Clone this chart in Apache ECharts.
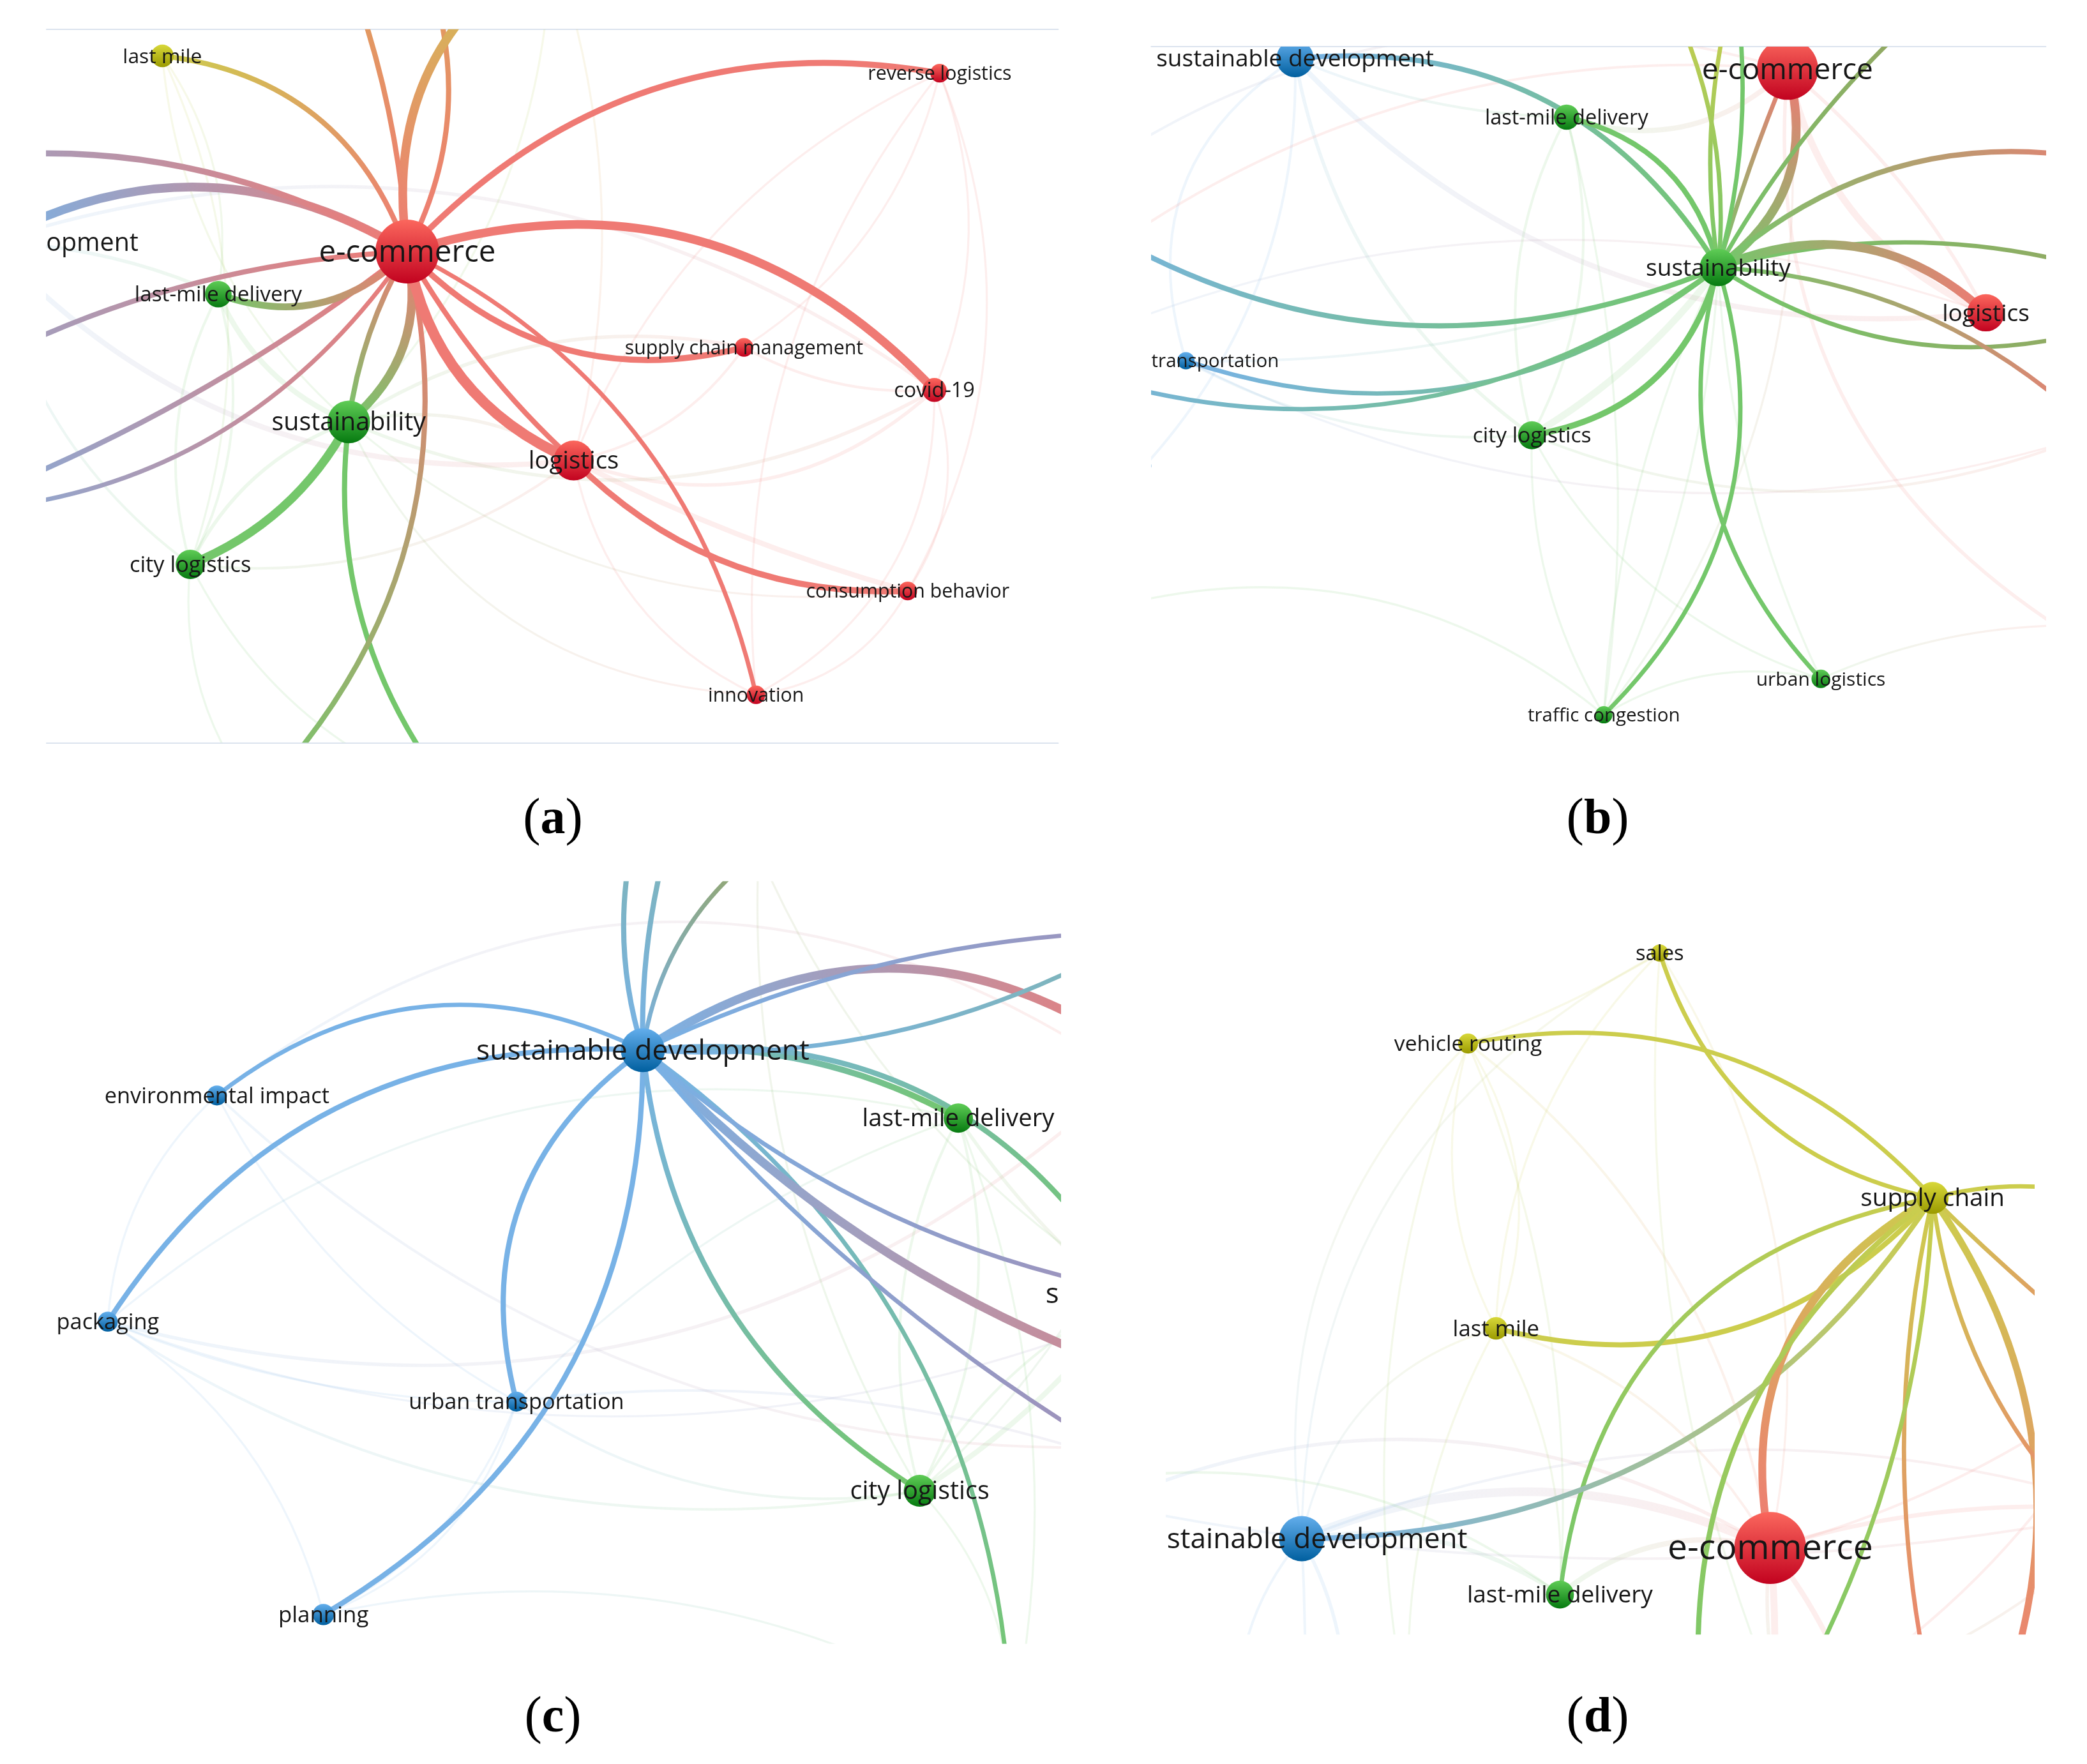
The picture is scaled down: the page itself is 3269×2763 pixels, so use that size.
<!DOCTYPE html>
<html>
<head>
<meta charset="utf-8">
<title>Keyword co-occurrence networks</title>
<script src="https://cdn.jsdelivr.net/npm/echarts@6/dist/echarts.min.js"></script>
<style>
html, body { margin: 0; background: #fff; }
#main { width: 3269px; height: 2763px; }
</style>
</head>
<body>
<div id="main"></div>
<script>
// nodes: name, x, y, weight, cluster. Names starting with ~ are keywords outside the crop, no label
var nodesA = [
	['sustainable development', -7, 182, 16, 'B'], ['environmental impact', -180, 160, 7, 'B'],
	['packaging', -120, 340, 7, 'B'], ['urban transportation', -60, 390, 7, 'B'], ['transportation', -80, 385, 6, 'B'],
	['~veh', 262, -20, 7, 'A'], ['~sales', 320, -25, 6, 'A'], ['supply chain', 414, -44, 11, 'Y'],
	['~urban', 342, 600, 6, 'G'], ['~traffic', 193, 600, 6, 'G'],
	['last mile', 122, 42, 8.5, 'Y'], ['last-mile delivery', 164, 221, 10, 'G'], ['city logistics', 143, 424, 11, 'G'],
	['sustainability', 262, 317, 16, 'G'], ['logistics', 431, 346, 15, 'R'], ['supply chain management', 559, 261, 7, 'R'],
	['covid-19', 702, 293, 9, 'R'], ['reverse logistics', 706, 55, 7, 'R'], ['consumption behavior', 682, 444, 7, 'R'],
	['innovation', 568, 522, 7, 'R'], ['e-commerce', 306, 189, 24, 'R']
];
// edges: source, target, bend (share of the chord, + bows to the left of travel), link strength
var edgesA = [
	['e-commerce', 'sustainable development', -0.287, 5], ['e-commerce', 'environmental impact', -0.24, 3.5],
	['e-commerce', 'packaging', -0.15, 3], ['e-commerce', 'urban transportation', 0.08, 3],
	['e-commerce', 'transportation', 0.27, 2.5], ['e-commerce', 'last mile', -0.31, 3],
	['e-commerce', 'last-mile delivery', 0.32, 4], ['e-commerce', 'sustainability', 0.3, 5],
	['e-commerce', 'sustainability', -0.1, 3], ['sustainability', 'city logistics', 0.18, 5],
	['sustainability', '~urban', -0.21, 3], ['e-commerce', '~traffic', 0.27, 3],
	['e-commerce', '~veh', -0.075, 3], ['e-commerce', '~sales', -0.22, 3], ['e-commerce', 'supply chain', 0.33, 5],
	['e-commerce', 'reverse logistics', 0.27, 3.5], ['e-commerce', 'covid-19', 0.31, 5],
	['e-commerce', 'logistics', -0.27, 6], ['e-commerce', 'logistics', -0.08, 3],
	['e-commerce', 'supply chain management', -0.29, 3.5], ['e-commerce', 'innovation', 0.236, 2.5],
	['logistics', 'consumption behavior', -0.22, 3.5]
];
var faintA = [
	['reverse logistics', 'consumption behavior', 0.24, 1.2], ['reverse logistics', 'covid-19', 0.2, 1.2],
	['reverse logistics', 'logistics', -0.2, 1.2], ['reverse logistics', 'supply chain management', 0.2, 1.2],
	['reverse logistics', 'innovation', -0.2, 1.2], ['logistics', 'covid-19', -0.3, 2],
	['supply chain management', 'logistics', 0.2, 1.5], ['supply chain management', 'covid-19', -0.15, 1.5],
	['covid-19', 'consumption behavior', 0.25, 1.2], ['covid-19', 'innovation', 0.3, 1.2],
	['consumption behavior', 'innovation', 0.25, 1.2], ['logistics', 'innovation', -0.25, 1.2],
	['logistics', 'consumption behavior', -0.05, 3], ['sustainability', 'consumption behavior', -0.22, 1.2],
	['sustainability', 'innovation', -0.3, 1.2], ['sustainability', 'covid-19', -0.25, 2],
	['sustainability', 'supply chain management', 0.2, 2], ['sustainability', 'logistics', 0.2, 2],
	['last mile', 'sustainability', -0.2, 1.2], ['last mile', 'city logistics', 0.2, 1.2],
	['last mile', 'last-mile delivery', 0.2, 1.2], ['last-mile delivery', 'city logistics', 0.2, 1.5],
	['last-mile delivery', 'city logistics', -0.2, 1.5], ['last-mile delivery', 'sustainability', -0.2, 3],
	['city logistics', 'sustainability', 0.2, 2], ['city logistics', '~traffic', -0.2, 1.2],
	['city logistics', '~urban', -0.2, 1.2], ['sustainable development', 'logistics', -0.25, 3],
	['sustainable development', 'covid-19', 0.25, 2], ['city logistics', 'logistics', -0.2, 1.5],
	['sustainable development', 'city logistics', -0.2, 1.5], ['sustainable development', 'last-mile delivery', 0.1, 2],
	['supply chain', 'logistics', 0.15, 1.2], ['supply chain', 'sustainability', 0.2, 1.2]
];

var nodesB = [
	['~t1', 1255, 0, 5, 'Y'], ['~t2', 1300, 0, 5, 'Y'], ['~t3', 1305, 0, 5, 'G'], ['~t4', 1440, 12, 5, 'O'],
	['~r1', 1600, 125, 5, 'R'], ['~r2', 1600, 210, 5, 'O'], ['~r3', 1600, 240, 5, 'O'], ['~r4', 1580, 330, 5, 'R'],
	['~l1', 790, 150, 5, 'B'], ['~l3', 780, 270, 5, 'B'], ['~l4', 860, 350, 5, 'B'], ['~l5', 840, 455, 5, 'G'],
	['~l6', 790, 220, 5, 'R'], ['~r5', 1560, 330, 5, 'R'], ['~r6', 1545, 470, 5, 'R'],
	['sustainable development', 973, 44, 14, 'B'], ['transportation', 891, 271, 6.5, 'B'],
	['last-mile delivery', 1177, 88, 9.5, 'G'], ['city logistics', 1151, 327, 10.5, 'G'],
	['traffic congestion', 1205, 537, 6.5, 'G'], ['urban logistics', 1368, 510, 7, 'G'],
	['logistics', 1492, 235, 14, 'R'], ['e-commerce', 1343, 52, 23, 'R'], ['sustainability', 1291, 201, 14, 'G']
];
var edgesB = [
	['sustainability', 'sustainable development', -0.31, 3], ['sustainability', 'last-mile delivery', -0.31, 3],
	['sustainability', 'e-commerce', -0.35, 5], ['sustainability', 'e-commerce', 0.03, 2.5],
	['sustainability', '~t1', -0.14, 2.5], ['sustainability', '~t2', 0.1, 2.5], ['sustainability', '~t3', -0.1, 2.5],
	['sustainability', '~t4', 0.08, 2.5], ['sustainability', '~r1', 0.26, 3], ['sustainability', '~r2', 0.15, 2.5],
	['sustainability', 'logistics', 0.32, 5], ['sustainability', '~r3', -0.245, 2.5], ['sustainability', '~r4', 0.19, 2.5],
	['sustainability', '~l1', 0.267, 3], ['sustainability', 'transportation', 0.27, 2.5], ['sustainability', '~l3', 0.264, 2.5],
	['sustainability', 'city logistics', 0.32, 3.5], ['sustainability', 'urban logistics', -0.28, 2.5],
	['sustainability', 'traffic congestion', 0.3, 2.5]
];
var faintB = [
	['sustainable development', 'transportation', -0.38, 1.5], ['sustainable development', '~l4', 0.2, 1.5],
	['sustainable development', 'city logistics', -0.2, 2], ['last-mile delivery', 'city logistics', 0.2, 1.5],
	['last-mile delivery', 'city logistics', -0.2, 1.5], ['sustainable development', 'logistics', -0.25, 3],
	['e-commerce', 'logistics', -0.25, 4], ['e-commerce', 'last-mile delivery', 0.3, 3], ['~l6', 'e-commerce', 0.2, 1.5],
	['city logistics', 'traffic congestion', -0.15, 1.2], ['traffic congestion', 'urban logistics', 0.2, 1.2],
	['traffic congestion', 'sustainability', 0.1, 1.2], ['traffic congestion', 'sustainability', -0.1, 1.2],
	['urban logistics', 'sustainability', 0.1, 1.2], ['city logistics', 'urban logistics', -0.2, 1.2],
	['last-mile delivery', 'traffic congestion', 0.1, 1.2], ['city logistics', '~r5', -0.2, 1.5],
	['~l5', 'traffic congestion', 0.25, 1.2], ['e-commerce', 'traffic congestion', 0.2, 1.2],
	['city logistics', 'sustainability', -0.1, 4], ['transportation', 'city logistics', -0.15, 1.5],
	['transportation', 'sustainability', -0.1, 1.5], ['e-commerce', '~r6', -0.3, 2], ['logistics', 'e-commerce', -0.1, 2],
	['transportation', '~r5', -0.2, 1.2], ['urban logistics', '~r6', 0.1, 1.2], ['sustainable development', 'last-mile delivery', -0.1, 1.5],
	['~l1', 'e-commerce', 0.25, 1.5], ['logistics', '~l3', -0.2, 1.2]
];

var nodesC = [
	['~ec', 860, 796, 5, 'R'], ['~cr1', 900, 700, 5, 'M'], ['~cr2', 860, 700, 5, 'T'], ['~cr3', 1000, 1070, 5, 'R'],
	['~cr4', 880, 975, 5, 'M'], ['~cr5', 860, 1105, 5, 'M'], ['~cb', 760, 1300, 5, 'G'], ['~cr6', 820, 790, 5, 'R'],
	['~ct1', 478, 620, 5, 'T'], ['~ct2', 505, 620, 5, 'T'], ['~ct3', 570, 640, 5, 'O'],
	['sustainability', 850, 972, 16, 'G'], ['environmental impact', 163, 823, 7.5, 'B'], ['packaging', 81, 993, 7.5, 'B'],
	['urban transportation', 388, 1053, 7.5, 'B'], ['planning', 243, 1213, 8, 'B'], ['last-mile delivery', 720, 840, 11, 'G'],
	['city logistics', 691, 1120, 12, 'G'], ['sustainable development', 483, 789, 16.5, 'B']
];
var edgesC = [
	['sustainable development', 'environmental impact', -0.31, 2.5], ['sustainable development', 'packaging', -0.29, 3],
	['sustainable development', 'urban transportation', -0.34, 3], ['sustainable development', 'planning', 0.287, 3],
	['sustainable development', 'city logistics', -0.245, 3], ['sustainable development', '~cb', 0.245, 2.5],
	['sustainable development', 'last-mile delivery', 0.15, 3.5], ['sustainable development', 'sustainability', 0.317, 3],
	['sustainable development', '~ec', 0.345, 5], ['sustainable development', '~cr1', 0.12, 2.5],
	['sustainable development', '~cr2', -0.155, 2.5], ['sustainable development', '~ct1', 0.14, 3],
	['sustainable development', '~ct2', 0.08, 3], ['sustainable development', '~ct3', 0.2, 2.5],
	['sustainable development', '~cr3', -0.163, 5], ['sustainable development', '~cr4', -0.15, 2.5],
	['sustainable development', '~cr5', -0.09, 2.5]
];
var faintC = [
	['environmental impact', 'packaging', -0.2, 1.2], ['environmental impact', 'urban transportation', -0.15, 1.2],
	['environmental impact', '~cr3', -0.25, 1.5], ['packaging', 'planning', 0.2, 1.2], ['packaging', 'urban transportation', -0.1, 1.2],
	['packaging', '~ec', -0.28, 2], ['packaging', 'city logistics', -0.2, 1.5], ['urban transportation', 'city logistics', -0.2, 1.5],
	['urban transportation', 'planning', 0.2, 1.2], ['urban transportation', 'last-mile delivery', 0.12, 1.2],
	['planning', '~cb', 0.2, 1.2], ['planning', 'urban transportation', -0.25, 1.2], ['environmental impact', '~cr6', 0.345, 1.5],
	['packaging', 'last-mile delivery', 0.25, 1.2], ['last-mile delivery', 'city logistics', 0.2, 1.5],
	['last-mile delivery', 'city logistics', -0.2, 1.5], ['city logistics', 'sustainability', 0.15, 1.5],
	['city logistics', 'sustainability', -0.1, 3], ['last-mile delivery', '~cb', 0.15, 1.2], ['last-mile delivery', '~cr3', -0.15, 2],
	['~ct3', 'city logistics', -0.15, 1.2], ['~cr1', 'city logistics', 0.2, 1.2], ['~ct3', 'sustainability', -0.15, 1.2],
	['city logistics', '~cb', 0.2, 1.2], ['urban transportation', '~cr5', 0.12, 1.5], ['packaging', '~cr4', -0.2, 1.2]
];

var nodesD = [
	['~db1', 1278, 1290, 5, 'G'], ['~db2', 1455, 1290, 5, 'R'], ['~db3', 1340, 1290, 5, 'G'], ['~db4', 1500, 1290, 5, 'R'],
	['~dr1', 1600, 1170, 5, 'R'], ['~dr2', 1600, 1030, 5, 'R'], ['~dr3', 1600, 905, 5, 'Y'], ['~dr4', 1600, 1135, 5, 'R'],
	['~dl1', 830, 1130, 5, 'B'], ['~dl2', 840, 1110, 5, 'G'], ['~dl3', 930, 1300, 5, 'B'], ['~dl4', 980, 1300, 5, 'B'],
	['~dl5', 1010, 1300, 5, 'B'], ['~db5', 1180, 1300, 5, 'G'], ['~db6', 1330, 1300, 5, 'R'], ['~db7', 1400, 1300, 5, 'R'],
	['~db8', 1060, 1300, 5, 'G'],
	['sales', 1247, 716, 6.5, 'Y'], ['vehicle routing', 1103, 784, 7.5, 'Y'], ['last mile', 1124, 998, 8.5, 'Y'],
	['sustainable development', 978, 1156, 17, 'B'], ['last-mile delivery', 1172, 1198, 10.5, 'G'],
	['e-commerce', 1330, 1163, 27, 'R'], ['supply chain', 1452, 900, 12, 'Y']
];
var edgesD = [
	['supply chain', 'sales', 0.29, 2.5], ['supply chain', 'vehicle routing', -0.28, 2.5], ['supply chain', 'last mile', 0.3, 3],
	['supply chain', 'last-mile delivery', -0.367, 2.5], ['supply chain', 'sustainable development', 0.267, 3],
	['supply chain', 'e-commerce', -0.36, 4.5], ['supply chain', '~db1', -0.28, 3], ['supply chain', '~db2', -0.118, 2.5],
	['supply chain', '~db3', 0.123, 2.5], ['supply chain', '~db4', 0.265, 4], ['supply chain', '~dr1', -0.195, 2.5],
	['supply chain', '~dr2', -0.03, 2.5], ['supply chain', '~dr3', 0.15, 2.5]
];
var faintD = [
	['sustainable development', 'e-commerce', 0.22, 5], ['~dl1', 'e-commerce', 0.256, 2], ['~dl2', 'last-mile delivery', 0.2, 1.5],
	['sustainable development', '~dr4', 0.18, 1.5],
	['vehicle routing', 'sustainable development', -0.25, 1.2], ['sales', 'sustainable development', -0.3, 1.2],
	['vehicle routing', 'last mile', -0.2, 1.2], ['vehicle routing', 'last mile', 0.25, 1.2], ['sales', 'last mile', -0.2, 1.2],
	['sales', 'vehicle routing', 0.05, 1.2], ['vehicle routing', 'e-commerce', 0.2, 1.5], ['sales', 'e-commerce', 0.2, 1.2],
	['vehicle routing', 'last-mile delivery', 0.12, 1.2], ['vehicle routing', '~db8', -0.15, 1.2],
	['last mile', 'sustainable development', -0.3, 1.2], ['last mile', 'e-commerce', 0.2, 1.5],
	['last mile', 'last-mile delivery', 0.15, 1.2], ['last mile', '~db8', -0.15, 1.2], ['sales', '~db3', -0.12, 1.2],
	['sustainable development', 'last-mile delivery', 0.2, 2.5], ['sustainable development', '~dl3', -0.2, 1.5],
	['sustainable development', '~dl4', 0.02, 1.5], ['sustainable development', '~dl5', 0.15, 2],
	['last-mile delivery', 'e-commerce', 0.25, 3], ['e-commerce', '~dr4', 0.1, 2.5], ['e-commerce', '~db6', 0.05, 4],
	['e-commerce', '~db7', 0.1, 3], ['e-commerce', '~db3', -0.1, 2], ['e-commerce', '~dr2', -0.1, 1.5],
	['~db1', '~dr4', -0.18, 1.5], ['~db6', '~dr2', -0.15, 1.5], ['~dl1', '~dr4', -0.1, 1.5]
];

var k = 3269 / 1568;
var clusters = { R: 0, G: 1, B: 2, Y: 3, M: 4, T: 5, O: 6, A: 7 };
var edgeColors = ['#ef7a74', '#74c76b', '#78b2e6', '#cccd4d', '#a38eb5', '#7fb5b5', '#96a562', '#dfa05c'];
var nodeTops = ['#fb675d', '#5fcc56', '#63aeec', '#d8d83a', '#a38eb5', '#7fb5b5', '#96a562', '#dfa05c'];
var nodeBottoms = ['#c2021f', '#067a10', '#005f9f', '#9a9a00', '#a38eb5', '#7fb5b5', '#96a562', '#dfa05c'];

var panels = [
	{ nodes: nodesA, edges: edgesA, faint: faintA, x: [35, 795], y: [22, 558], lines: ['top', 'bottom'], labelScale: 0.97, caption: 'a', capX: 413, capY: 614 },
	{ nodes: nodesB, edges: edgesB, faint: faintB, x: [865, 1537], y: [35, 549], lines: ['top'], labelScale: 0.96, caption: 'b', capX: 1198, capY: 614, labelShift: { 'transportation': 22 } },
	{ nodes: nodesC, edges: edgesC, faint: faintC, x: [35, 797], y: [662, 1235], lines: [], labelScale: 1.08, caption: 'c', capX: 413, capY: 1289 },
	{ nodes: nodesD, edges: edgesD, faint: faintD, x: [876, 1528], y: [660, 1228], lines: [], labelScale: 1.06, caption: 'd', capX: 1198, capY: 1289 }
];

function edgeRows(panel, list) {
	var byName = {};
	panel.nodes.forEach(function (n) { byName[n[0]] = n; });
	return list.map(function (e) {
		var a = byName[e[0]], b = byName[e[1]];
		return [a[1], a[2], b[1], b[2], e[2], e[3], clusters[a[4]], clusters[b[4]]];
	});
}

function renderEdge(opacity) {
	return function (params, api) {
		var a = api.coord([api.value(0), api.value(1)]);
		var b = api.coord([api.value(2), api.value(3)]);
		var bend = api.value(4);
		var dx = b[0] - a[0], dy = b[1] - a[1];
		return {
			type: 'bezierCurve',
			shape: {
				x1: a[0], y1: a[1], x2: b[0], y2: b[1],
				cpx1: (a[0] + b[0]) / 2 + bend * dy,
				cpy1: (a[1] + b[1]) / 2 - bend * dx
			},
			style: {
				fill: 'none',
				opacity: opacity,
				lineWidth: api.value(5) * k * 1.3,
				stroke: new echarts.graphic.LinearGradient(a[0], a[1], b[0], b[1], [
					{ offset: 0, color: edgeColors[api.value(6)] },
					{ offset: 1, color: edgeColors[api.value(7)] }
				], true)
			}
		};
	};
}

function renderNode(panel) {
	return function (params, api) {
		var n = panel.nodes[params.dataIndex];
		var p = api.coord([api.value(0), api.value(1)]);
		var r = api.size([api.value(2), 0])[0];
		var c = api.value(3);
		var children = [{
			type: 'circle',
			shape: { cx: p[0], cy: p[1], r: r },
			style: {
				fill: new echarts.graphic.LinearGradient(0, 0, 0, 1, [
					{ offset: 0, color: nodeTops[c] },
					{ offset: 1, color: nodeBottoms[c] }
				])
			}
		}];
		if (n[0].charAt(0) !== '~') {
			var shift = panel.labelShift && panel.labelShift[n[0]] || 0;
			children.push({
				type: 'text',
				z2: 10,
				x: p[0] + shift * k,
				y: p[1] + k,
				style: {
					text: n[0],
					fontFamily: '"Open Sans"',
					fontSize: (11.5 + 0.5 * n[3]) * panel.labelScale * k,
					fill: '#161616',
					align: 'center',
					verticalAlign: 'middle'
				}
			});
		}
		return { type: 'group', children: children };
	};
}

var option = { animation: false, grid: [], xAxis: [], yAxis: [], series: [], title: [] };

panels.forEach(function (panel, i) {
	option.grid.push({
		left: panel.x[0] * k,
		top: panel.y[0] * k,
		width: (panel.x[1] - panel.x[0]) * k,
		height: (panel.y[1] - panel.y[0]) * k
	});
	var xIndex = option.xAxis.length;
	(panel.lines.length ? panel.lines : ['bottom']).forEach(function (pos) {
		option.xAxis.push({
			type: 'value', gridIndex: i, min: panel.x[0], max: panel.x[1], position: pos,
			show: panel.lines.length > 0,
			axisLine: { onZero: false, lineStyle: { color: '#dbe3ee', width: 2 * k / 2 } },
			axisTick: { show: false }, axisLabel: { show: false }, splitLine: { show: false }
		});
	});
	option.yAxis.push({
		type: 'value', gridIndex: i, min: panel.y[0], max: panel.y[1], inverse: true, show: false
	});
	var common = { type: 'custom', clip: true, silent: true, xAxisIndex: xIndex, yAxisIndex: i };
	option.series.push(Object.assign({}, common, {
		renderItem: renderEdge(0.13), encode: { x: [0, 2], y: [1, 3] }, data: edgeRows(panel, panel.faint), z: 1
	}));
	option.series.push(Object.assign({}, common, {
		renderItem: renderEdge(1), encode: { x: [0, 2], y: [1, 3] }, data: edgeRows(panel, panel.edges), z: 2
	}));
	option.series.push(Object.assign({}, common, {
		renderItem: renderNode(panel), encode: { x: 0, y: 1 },
		data: panel.nodes.map(function (n) { return [n[1], n[2], n[3], clusters[n[4]]]; }), z: 3
	}));
	option.title.push({
		text: '{p|(}{b|' + panel.caption + '}{p|)}',
		left: panel.capX * k, top: panel.capY * k,
		textAlign: 'center', textVerticalAlign: 'middle',
		textStyle: {
			rich: {
				p: { fontFamily: '"Liberation Serif"', fontSize: 82, fontWeight: 'normal', color: '#000' },
				b: { fontFamily: '"Liberation Serif"', fontSize: 78, fontWeight: 'bold', color: '#000' }
			}
		}
	});
});

var myChart = echarts.init(document.getElementById('main'), null, { renderer: 'canvas' });
myChart.setOption(option);
</script>
</body>
</html>
